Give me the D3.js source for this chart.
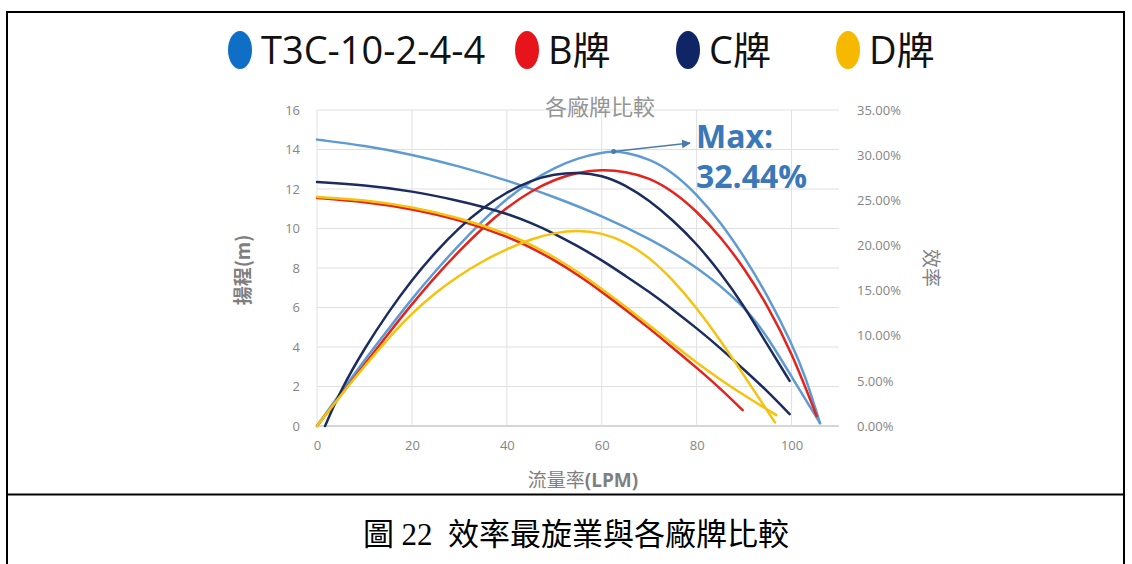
<!DOCTYPE html>
<html>
<head>
<meta charset="utf-8">
<script src="https://cdn.jsdelivr.net/npm/d3@7"></script>
<style>
  body { margin: 0; background: #fff; }
</style>
</head>
<body>
<div id="main"></div>
<script>
// ---- data ----
const seriesNames = ['T3C-10-2-4-4', 'B牌', 'C牌', 'D牌'];
const seriesColors = ['#5f9bd3', '#e3231c', '#1d2c5f', '#f5c30e'];
const legendColors = ['#0f6fc6', '#e8141b', '#0f2566', '#f7b900'];

// head (m), left axis
const flowHeadT3C = [0, 10, 20, 30, 40, 50, 60, 70, 80, 90, 95, 100, 106];
const headT3C = [14.5, 14.2, 13.75, 13.15, 12.45, 11.6, 10.65, 9.5, 8.1, 6.1, 4.5, 2.5, 0.15];
const flowHeadB = [0, 10, 20, 30, 40, 45, 50, 55, 60, 65, 70, 75, 80, 85, 89.7];
const headB = [11.55, 11.35, 11.0, 10.45, 9.6, 9.05, 8.4, 7.65, 6.8, 5.9, 4.95, 3.95, 2.95, 1.9, 0.8];
const flowHeadC = [0, 10, 20, 30, 35, 40, 45, 50, 55, 60, 65, 70, 75, 80, 85, 90, 95, 99.6];
const headC = [12.35, 12.2, 11.9, 11.4, 11.1, 10.75, 10.3, 9.75, 9.1, 8.4, 7.6, 6.8, 5.9, 4.95, 3.95, 2.85, 1.75, 0.6];
const flowHeadD = [0, 10, 20, 30, 40, 45, 50, 55, 60, 65, 70, 75, 80, 85, 90, 96.8];
const headD = [11.6, 11.45, 11.1, 10.55, 9.75, 9.2, 8.55, 7.8, 6.95, 6.05, 5.1, 4.15, 3.2, 2.35, 1.55, 0.55];

// efficiency (%), right axis
const flowEffT3C = [0, 5, 10, 15, 20, 25, 30, 35, 40, 45, 50, 55, 60, 62.5, 65, 70, 75, 80, 85, 90, 95, 100, 103, 106];
const effT3C = [0, 3.7, 7.3, 10.7, 14.1, 17.2, 20.1, 22.8, 25.2, 27.1, 28.6, 29.7, 30.3, 30.4, 30.3, 29.6, 28.1, 25.7, 22.6, 18.8, 14.4, 9.2, 5.4, 0.3];
const flowEffB = [0, 5, 10, 15, 20, 25, 30, 35, 40, 45, 50, 55, 60, 65, 70, 75, 80, 85, 90, 95, 100, 105.3];
const effB = [0, 3.4, 6.8, 10.2, 13.5, 16.6, 19.4, 22.0, 24.2, 26.0, 27.3, 28.1, 28.4, 28.2, 27.5, 26.0, 23.8, 21.0, 17.5, 13.3, 8.2, 1.1];
const flowEffC = [1.7, 5, 10, 15, 20, 25, 30, 35, 40, 45, 50, 55, 60, 65, 70, 75, 80, 85, 90, 95, 99.6];
const effC = [0, 4.0, 8.6, 12.6, 16.2, 19.3, 22.0, 24.2, 25.9, 27.2, 27.9, 28.1, 27.8, 26.7, 25.0, 22.8, 20.2, 17.0, 13.3, 8.9, 5.0];
const flowEffD = [0, 5, 10, 15, 20, 25, 30, 35, 40, 45, 50, 55, 60, 65, 70, 75, 80, 85, 90, 96.5];
const effD = [0, 3.4, 6.6, 9.7, 12.5, 14.8, 16.7, 18.3, 19.6, 20.7, 21.4, 21.7, 21.4, 20.4, 18.7, 16.2, 13.1, 9.5, 5.6, 0.4];

const xTicks = [0, 20, 40, 60, 80, 100];
const headTicks = [0, 2, 4, 6, 8, 10, 12, 14, 16];
const effTicks = [0, 0.05, 0.10, 0.15, 0.20, 0.25, 0.30, 0.35];

const maxLabel = ['Max:', '32.44%'];
const chartTitle = '各廠牌比較';
const xTitle = '流量率';
const caption = '圖 22  效率最旋業與各廠牌比較';

const zip = (xs, ys) => xs.map((x, i) => ({ x: x, y: ys[i] }));

class PumpChart {
  constructor(config) {
    this.config = config;
    this.svg = null;
    this.xScale = null;
    this.yHead = null;
    this.yEff = null;
    this.createSvg();
  }

  createSvg() {
    this.svg = d3.select(this.config.div)
      .append('svg')
      .attr('width', this.config.width)
      .attr('height', this.config.height)
      .style('display', 'block')
      .style('font-family', '"Open Sans", "Noto Sans CJK TC", sans-serif');

    this.svg.append('rect')
      .attr('width', this.config.width)
      .attr('height', this.config.height)
      .attr('fill', '#fff');

    // frame of the figure cell
    this.svg.append('path')
      .attr('d', 'M7,565 L7,12 L1124,12 L1124,565 M7,494.5 L1124,494.5')
      .attr('fill', 'none')
      .attr('stroke', '#000')
      .attr('stroke-width', 2);
  }

  createScales() {
    const c = this.config;
    this.xScale = d3.scaleLinear().domain([0, 110]).range([c.left, c.right]);
    this.yHead = d3.scaleLinear().domain([0, 16]).range([c.bottom, c.top]);
    this.yEff = d3.scaleLinear().domain([0, 0.35]).range([c.bottom, c.top]);
  }

  createGrid() {
    const c = this.config;
    const g = this.svg.append('g');
    g.selectAll('.hgrid')
      .data(headTicks)
      .join('line')
      .attr('x1', c.left).attr('x2', c.right)
      .attr('y1', d => this.yHead(d)).attr('y2', d => this.yHead(d))
      .attr('stroke', d => d === 0 ? '#c8c8c8' : '#e0e0e0')
      .attr('stroke-width', d => d === 0 ? 1.5 : 1);
    g.selectAll('.vgrid')
      .data(xTicks)
      .join('line')
      .attr('x1', d => this.xScale(d)).attr('x2', d => this.xScale(d))
      .attr('y1', c.top).attr('y2', c.bottom)
      .attr('stroke', '#e0e0e0')
      .attr('stroke-width', 1);
  }

  createAxis() {
    const c = this.config;
    const style = sel => {
      sel.select('.domain').remove();
      sel.selectAll('text')
        .attr('fill', '#858585')
        .style('font-size', '13px')
        .style('font-family', '"Open Sans", sans-serif');
    };

    this.svg.append('g')
      .attr('transform', `translate(0,${c.bottom})`)
      .call(d3.axisBottom(this.xScale).tickValues(xTicks).tickSize(0).tickPadding(15))
      .call(style);

    this.svg.append('g')
      .attr('transform', `translate(${c.left},0)`)
      .call(d3.axisLeft(this.yHead).tickValues(headTicks).tickSize(0).tickPadding(17))
      .call(style);

    this.svg.append('g')
      .attr('transform', `translate(${c.right},0)`)
      .call(d3.axisRight(this.yEff).tickValues(effTicks).tickSize(0).tickPadding(18)
        .tickFormat(d3.format('.2%')))
      .call(style);

    // axis titles
    const xt = this.svg.append('text')
      .attr('x', 583).attr('y', 487)
      .attr('text-anchor', 'middle')
      .attr('fill', '#7f7f7f')
      .style('font-size', '19px');
    xt.append('tspan').text(xTitle).style('font-family', '"Noto Sans CJK TC", sans-serif');
    xt.append('tspan').text('(LPM)').attr('font-weight', 'bold');

    this.svg.append('text')
      .attr('transform', 'translate(250,270) rotate(-90)')
      .attr('text-anchor', 'middle')
      .attr('fill', '#7f7f7f')
      .attr('font-weight', 'bold')
      .style('font-size', '19px')
      .style('font-family', '"Noto Sans CJK TC", sans-serif')
      .text('揚程(m)');

    this.svg.append('text')
      .attr('transform', 'translate(924,268) rotate(90)')
      .attr('text-anchor', 'middle')
      .attr('fill', '#7f7f7f')
      .style('font-size', '19px')
      .style('font-family', '"Noto Sans CJK TC", sans-serif')
      .text('效率');

    this.svg.append('text')
      .attr('x', 600).attr('y', 115)
      .attr('text-anchor', 'middle')
      .attr('fill', '#959595')
      .style('font-size', '22px')
      .style('font-family', '"Noto Sans CJK TC", sans-serif')
      .text(chartTitle);
  }

  render() {
    const heads = [zip(flowHeadT3C, headT3C), zip(flowHeadB, headB), zip(flowHeadC, headC), zip(flowHeadD, headD)];
    const effs = [zip(flowEffT3C, effT3C), zip(flowEffB, effB), zip(flowEffC, effC), zip(flowEffD, effD)];

    const headLine = d3.line()
      .x(d => this.xScale(d.x))
      .y(d => this.yHead(d.y))
      .curve(d3.curveBasis);
    const effLine = d3.line()
      .x(d => this.xScale(d.x))
      .y(d => this.yEff(d.y / 100))
      .curve(d3.curveBasis);

    const g = this.svg.append('g');
    seriesNames.forEach((name, i) => {
      g.append('path')
        .datum(heads[i])
        .attr('fill', 'none')
        .attr('stroke', seriesColors[i])
        .attr('stroke-width', 2.5)
        .attr('stroke-linecap', 'round')
        .attr('d', headLine);
      g.append('path')
        .datum(effs[i])
        .attr('fill', 'none')
        .attr('stroke', seriesColors[i])
        .attr('stroke-width', 2.5)
        .attr('stroke-linecap', 'round')
        .attr('d', effLine);
    });

    // max annotation on the T3C efficiency curve
    const peak = effs[0].reduce((a, b) => b.y > a.y ? b : a);
    const px = this.xScale(peak.x), py = this.yEff(peak.y / 100);
    this.svg.append('defs').append('marker')
      .attr('id', 'arrow')
      .attr('viewBox', '0 0 10 10')
      .attr('refX', 9).attr('refY', 5)
      .attr('markerWidth', 6).attr('markerHeight', 6)
      .attr('orient', 'auto')
      .append('path')
      .attr('d', 'M0,0 L10,5 L0,10 Z')
      .attr('fill', '#4a7bb0');
    this.svg.append('circle')
      .attr('cx', px).attr('cy', py).attr('r', 2.5)
      .attr('fill', '#4a7bb0');
    this.svg.append('line')
      .attr('x1', px).attr('y1', py)
      .attr('x2', 690).attr('y2', 143)
      .attr('stroke', '#4a7bb0')
      .attr('stroke-width', 1.5)
      .attr('marker-end', 'url(#arrow)');
    this.svg.selectAll('.maxlabel')
      .data(maxLabel)
      .join('text')
      .attr('x', 696)
      .attr('y', (d, i) => 148 + i * 40)
      .attr('fill', '#3b78b8')
      .attr('font-weight', 'bold')
      .style('font-size', '32px')
      .text(d => d);
  }

  createLegend() {
    const xs = [240, 527, 688, 848];
    const items = this.svg.append('g')
      .selectAll('g')
      .data(seriesNames)
      .join('g')
      .attr('transform', (d, i) => `translate(${xs[i]},50)`);
    items.append('ellipse')
      .attr('rx', 12).attr('ry', 19)
      .attr('fill', (d, i) => legendColors[i]);
    items.append('text')
      .attr('x', 21).attr('y', 14)
      .attr('fill', '#111')
      .style('font-size', '38px')
      .text(d => d);
  }

  createCaption() {
    this.svg.append('text')
      .attr('x', 576).attr('y', 545)
      .attr('text-anchor', 'middle')
      .attr('fill', '#000')
      .style('font-size', '31px')
      .style('font-family', '"Liberation Serif", "Noto Sans CJK TC", serif')
      .style('white-space', 'pre')
      .text(caption);
  }
}

function main() {
  const c = { div: '#main', width: 1132, height: 564, left: 317, right: 839, top: 110, bottom: 426 };
  const app = new PumpChart(c);
  app.createScales();
  app.createGrid();
  app.createAxis();
  app.render();
  app.createLegend();
  app.createCaption();
}

main();
</script>
</body>
</html>
